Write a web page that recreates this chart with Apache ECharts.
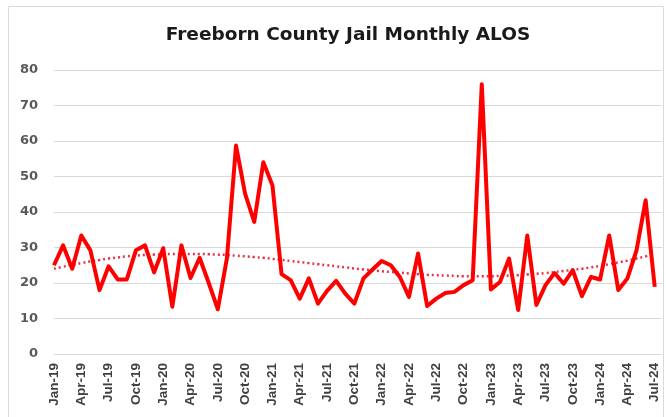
<!DOCTYPE html>
<html>
<head>
<meta charset="utf-8">
<script src="https://cdn.jsdelivr.net/npm/echarts@6/dist/echarts.min.js"></script>
<style>
html,body{margin:0;padding:0;background:#fff;}
#chart{width:666px;height:417px;}
</style>
</head>
<body>
<div id="chart"></div>
<script>
// Tick labels shown every 3 months (Jan-19 .. Jul-24)
const tickLabels = ['Jan-19','Apr-19','Jul-19','Oct-19','Jan-20','Apr-20','Jul-20','Oct-20',
  'Jan-21','Apr-21','Jul-21','Oct-21','Jan-22','Apr-22','Jul-22','Oct-22',
  'Jan-23','Apr-23','Jul-23','Oct-23','Jan-24','Apr-24','Jul-24'];

// Monthly ALOS, Jan-19 .. Jul-24
const alos2019 = [25, 30.6, 24, 33.4, 29.2, 18, 24.7, 21, 21, 29.2, 30.6, 23];
const alos2020 = [29.8, 13.3, 30.6, 21.4, 27.1, 20, 12.6, 27, 58.7, 45.1, 37.2, 54];
const alos2021 = [47.5, 22.5, 20.8, 15.6, 21.3, 14.2, 17.8, 20.6, 17, 14.2, 21.3, 23.8];
const alos2022 = [26.2, 25, 21.7, 16.1, 28.3, 13.5, 15.6, 17.2, 17.5, 19.4, 20.8, 76];
const alos2023 = [18.2, 20.3, 26.9, 12.4, 33.4, 13.8, 19.4, 22.8, 19.8, 23.6, 16.3, 21.7];
const alos2024 = [21, 33.4, 18, 21.3, 29.2, 43.3, 18.9];

// Dotted trend line
const trend = [24.0,24.6,25.1,25.6,26.1,26.5,26.9,27.2,27.5,27.7,27.9,28.0,
  28.1,28.2,28.2,28.2,28.2,28.1,28.0,27.9,27.7,27.5,27.3,27.1,
  26.8,26.5,26.2,25.9,25.6,25.3,25.0,24.7,24.4,24.1,23.8,23.6,
  23.3,23.1,22.9,22.7,22.5,22.3,22.2,22.1,22.0,21.9,21.9,21.9,
  21.9,22.0,22.1,22.2,22.4,22.6,22.8,23.1,23.4,23.7,24.0,24.4,
  24.8,25.3,25.8,26.3,26.9,27.5,28.1];

const alos = [].concat(alos2019, alos2020, alos2021, alos2022, alos2023, alos2024);
const alosData = alos.map((v, i) => [i, v]);
const trendData = trend.map((v, i) => [i, v]);

const chart = echarts.init(document.getElementById('chart'), null, {renderer: 'canvas'});
chart.setOption({
  backgroundColor: '#ffffff',
  animation: false,
  graphic: [{
    type: 'rect', z: -10,
    shape: {x: 8.5, y: 6.5, width: 655, height: 430},
    style: {fill: '#ffffff', stroke: '#d9d9d9', lineWidth: 1}
  }],
  title: {
    text: 'Freeborn County Jail Monthly ALOS',
    left: 343, top: 21, textAlign: 'center',
    textStyle: {fontFamily: 'DejaVu Sans', fontWeight: 'bold', fontSize: 18.5, color: '#1a1a1a'}
  },
  grid: {left: 54, right: 4, top: 70, bottom: 63},
  xAxis: {
    type: 'value', min: 0, max: 66.8, interval: 3,
    axisLine: {show: false}, axisTick: {show: false}, splitLine: {show: false},
    axisLabel: {
      rotate: 90, margin: 9, fontFamily: 'Liberation Sans', fontWeight: 'bold',
      fontSize: 13.5, color: '#404040', showMaxLabel: false,
      formatter: v => (Number.isInteger(v) && v % 3 === 0) ? (tickLabels[v / 3] || '') : ''
    }
  },
  yAxis: {
    type: 'value', min: 0, max: 80, interval: 10,
    axisLine: {show: false}, axisTick: {show: false},
    splitLine: {lineStyle: {color: '#d9d9d9', width: 1}},
    axisLabel: {margin: 16, fontFamily: 'DejaVu Sans', fontWeight: 'bold', fontSize: 13, color: '#595959'}
  },
  series: [
    {
      type: 'line', data: trendData, showSymbol: false, smooth: true,
      lineStyle: {color: '#e8304a', width: 2.5, type: [2, 3]}, z: 2
    },
    {
      type: 'line', data: alosData, showSymbol: false,
      lineStyle: {color: '#ff0000', width: 4, join: 'round'}, z: 3
    }
  ]
});
</script>
</body>
</html>
